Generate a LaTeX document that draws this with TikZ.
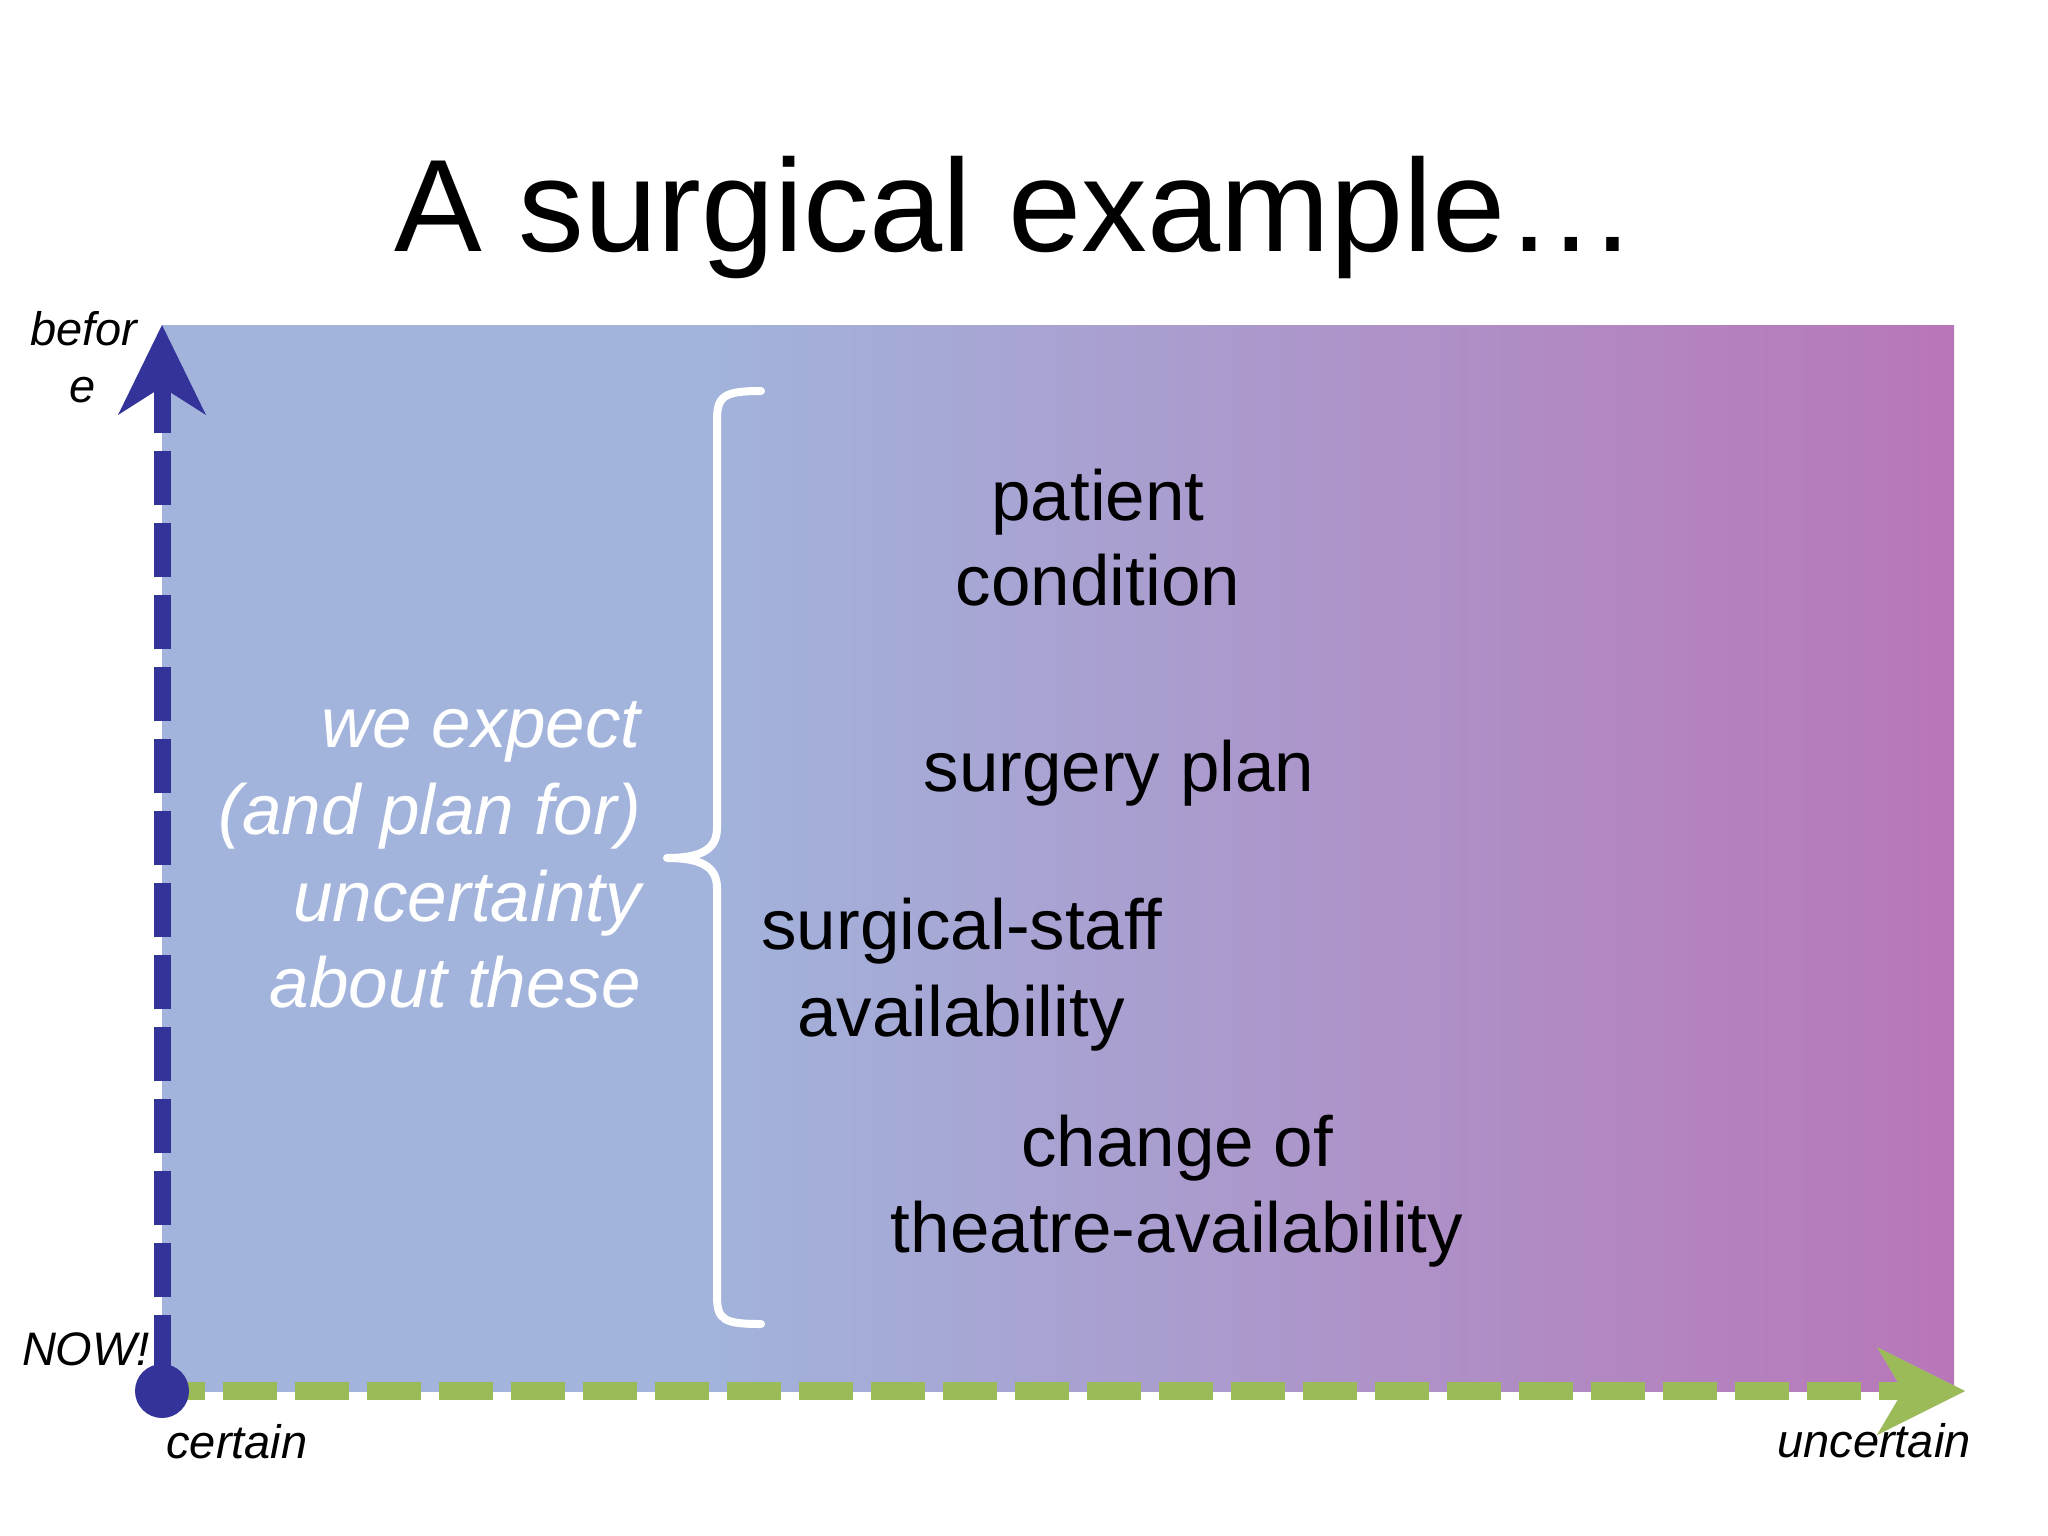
\documentclass[tikz,border=0pt]{standalone}
\usepackage{fontspec}
\setmainfont{Liberation Sans}
\usetikzlibrary{arrows.meta}
\definecolor{axisblue}{RGB}{51,51,153}
\definecolor{axisgreen}{RGB}{155,187,89}
\pgfdeclarehorizontalshading{slidefade}{100bp}{rgb(0bp)=(0.635,0.706,0.863); rgb(40bp)=(0.635,0.706,0.863); rgb(75bp)=(0.722,0.463,0.722); rgb(100bp)=(0.722,0.463,0.722)}
\tikzset{
  axislabel/.style={font=\fontsize{47}{57}\selectfont\itshape, inner sep=0pt, anchor=base},
  itemtext/.style={font=\fontsize{71}{86}\selectfont, inner sep=0pt, anchor=base},
  notetext/.style={font=\fontsize{71}{86}\selectfont\itshape, text=white, inner sep=0pt, anchor=base east},
  axisshadow/.style={draw=gray!60, opacity=0.5, shift={(2pt,-4pt)}},
  blueaxis/.style={draw=axisblue, line width=17pt, dash pattern=on 54pt off 18pt, dash phase=50pt,
    -{Stealth[length=90pt,width=88pt,inset=28pt,line width=0pt]}},
  greenaxis/.style={draw=axisgreen, line width=18pt, dash pattern=on 54pt off 18pt, dash phase=11pt,
    -{Stealth[length=88pt,width=88pt,inset=26pt,line width=0pt]}},
  nowdot/.style={circle, fill=axisblue, minimum size=54pt, inner sep=0pt},
  bracepath/.style={draw=white, line width=8pt, line cap=round, line join=round}
}
\begin{document}
\begin{tikzpicture}[x=1pt,y=-1pt]
  \useasboundingbox (0,0) rectangle (2048,1536);
  \fill[white] (0,0) rectangle (2048,1536);
  % backdrop
  \shade[shading=slidefade] (162,325) rectangle (1954,1391);

  \node[font=\fontsize{131.5}{158}\selectfont, inner sep=0pt, anchor=base] (title) at (1016,251) {A surgical example…};

  % axes
  \coordinate (origin) at (162,1391);
  \coordinate (topend) at (162,325);
  \coordinate (rightend) at (1965,1391);
  \draw[greenaxis, axisshadow] (origin) -- (rightend);
  \draw[greenaxis] (origin) -- (rightend);
  \draw[blueaxis] (origin) -- (topend);
  \node[nowdot] (now) at (origin) {};

  \node[axislabel] (before1) at (84,345) {befor};
  \node[axislabel] (before2) at (83,402) {e};
  \node[axislabel] (nowlabel) at (86,1365) {NOW!};
  \node[axislabel] (certain) at (237,1458) {certain};
  \node[axislabel] (uncertain) at (1874,1457) {uncertain};

  % brace
  \draw[bracepath] (761,391) .. controls (724,391) and (717,396) .. (717,420)
    -- (717,828) .. controls (717,850) and (700,858) .. (667,858)
    .. controls (700,858) and (717,866) .. (717,888)
    -- (717,1296) .. controls (717,1320) and (724,1324) .. (761,1324);

  \node[notetext] (note1) at (641,747) {we expect};
  \node[notetext] (note2) at (641,834) {(and plan for)};
  \node[notetext] (note3) at (641,921) {uncertainty};
  \node[notetext] (note4) at (641,1007) {about these};

  \node[itemtext] (patient1) at (1098,520) {patient};
  \node[itemtext] (patient2) at (1098,605) {condition};
  \node[itemtext] (plan) at (1119,791) {surgery plan};
  \node[itemtext] (staff1) at (962,949) {surgical-staff};
  \node[itemtext] (staff2) at (961,1036) {availability};
  \node[itemtext] (theatre1) at (1177,1166) {change of};
  \node[itemtext] (theatre2) at (1177,1252) {theatre-availability};
\end{tikzpicture}
\end{document}
